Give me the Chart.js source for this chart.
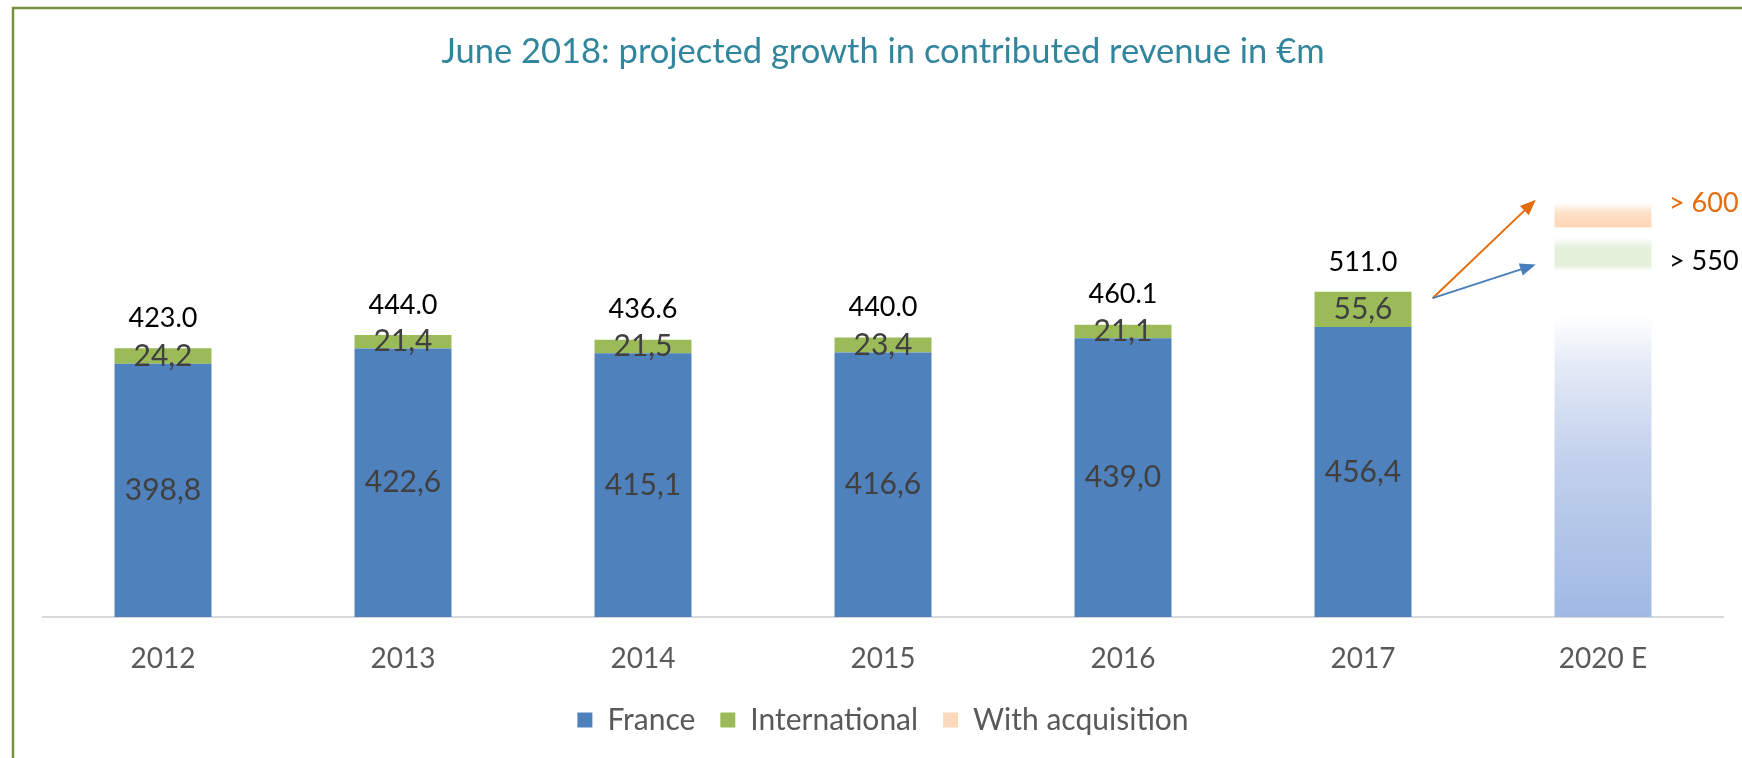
<!DOCTYPE html>
<html>
<head>
<meta charset="utf-8">
<script src="https://cdn.jsdelivr.net/npm/chart.js@4"></script>
<style>
  html, body { margin: 0; padding: 0; background: #ffffff; }
  #wrap { width: 1742px; height: 758px; position: relative; }
</style>
</head>
<body>
<div id="wrap"><canvas id="revChart"></canvas></div>
<script>
// Chart data
const years = ["2012", "2013", "2014", "2015", "2016", "2017", "2020 E"];
const france = [398.8, 422.6, 415.1, 416.6, 439.0, 456.4, 545];
const international = [24.2, 21.4, 21.5, 23.4, 21.1, 55.6, 53];
const acquisition = [null, null, null, null, null, null, 63];
const totals = [423.0, 444.0, 436.6, 440.0, 460.1, 511.0];
const targetLabels = ["> 600", "> 550"];
const targetValues = [652, 560];
const arrowTips = [657, 555];
const arrowStart = 502;

const LAST = years.length - 1;

// gradient helper for the projected bar
function barGradient(c, from, to, stops) {
    const chart = c.chart;
    const y = chart.scales.y;
    const g = chart.ctx.createLinearGradient(0, y.getPixelForValue(from), 0, y.getPixelForValue(to));
    stops.forEach(s => g.addColorStop(s[0], s[1]));
    return g;
}

const franceColor = (c) => {
    if (c.dataIndex !== LAST || !c.chart.chartArea) return "#4f81bd";
    return barGradient(c, 0, france[LAST], [
        [0, "#a0b9e4"], [0.45, "#c2d0ec"], [0.72, "#e3e9f6"], [0.87, "#ffffff"], [1, "#ffffff"]
    ]);
};
const intlColor = (c) => {
    if (c.dataIndex !== LAST || !c.chart.chartArea) return "#9bbb59";
    const lo = france[LAST];
    return barGradient(c, lo, lo + international[LAST], [
        [0, "#ffffff"], [0.15, "#e4f0da"], [0.65, "#e4f0da"], [1, "#ffffff"]
    ]);
};
const acqColor = (c) => {
    if (c.dataIndex !== LAST || !c.chart.chartArea) return "#fcd9bd";
    const lo = france[LAST] + international[LAST];
    return barGradient(c, lo, lo + acquisition[LAST], [
        [0, "#ffffff"], [0.24, "#ffffff"], [0.245, "#fdd6b6"], [0.6, "#fde0c8"], [0.86, "#ffffff"], [1, "#ffffff"]
    ]);
};

// labels, arrows, frame
const decorPlugin = {
    id: "decor",
    beforeDraw(chart) {
        const ctx = chart.ctx;
        ctx.save();
        ctx.strokeStyle = "#77933c";
        ctx.lineWidth = 2.5;
        ctx.beginPath();
        ctx.moveTo(13, 758);
        ctx.lineTo(13, 8);
        ctx.lineTo(1742, 8);
        ctx.stroke();
        ctx.restore();
    },
    afterDatasetsDraw(chart) {
        const ctx = chart.ctx;
        const x = chart.scales.x;
        const y = chart.scales.y;
        const frMeta = chart.getDatasetMeta(0);
        const inMeta = chart.getDatasetMeta(1);
        ctx.save();
        ctx.textAlign = "center";
        ctx.textBaseline = "middle";
        for (let i = 0; i < totals.length; i++) {
            const fr = frMeta.data[i];
            const it = inMeta.data[i];
            ctx.fillStyle = "#404040";
            ctx.font = "30px Lato";
            ctx.fillText(france[i].toFixed(1).replace(".", ","), fr.x, (fr.y + fr.base) / 2);
            ctx.fillText(international[i].toFixed(1).replace(".", ","), it.x, (it.y + it.base) / 2);
            ctx.fillStyle = "#000000";
            ctx.font = "27px Lato";
            ctx.fillText(totals[i].toFixed(1), it.x, it.y - 30);
        }

        // arrows from 2017 to the projection
        const step = x.getPixelForValue(1) - x.getPixelForValue(0);
        const x0 = x.getPixelForValue(LAST - 1) + step * 0.29;
        const y0 = y.getPixelForValue(arrowStart);
        const x1 = x.getPixelForValue(LAST) - step * 0.28;
        const arrowColors = ["#e46c0a", "#4a7ebb"];
        arrowTips.forEach((v, k) => {
            const y1 = y.getPixelForValue(v);
            const ang = Math.atan2(y1 - y0, x1 - x0);
            ctx.strokeStyle = arrowColors[k];
            ctx.fillStyle = arrowColors[k];
            ctx.lineWidth = 2;
            ctx.beginPath();
            ctx.moveTo(x0, y0);
            ctx.lineTo(x1 - Math.cos(ang) * 10, y1 - Math.sin(ang) * 10);
            ctx.stroke();
            ctx.beginPath();
            ctx.moveTo(x1, y1);
            ctx.lineTo(x1 - Math.cos(ang - 0.38) * 17, y1 - Math.sin(ang - 0.38) * 17);
            ctx.lineTo(x1 - Math.cos(ang + 0.38) * 17, y1 - Math.sin(ang + 0.38) * 17);
            ctx.closePath();
            ctx.fill();
        });

        // target texts next to the projected bar
        const tx = x.getPixelForValue(LAST) + step * 0.275;
        ctx.textAlign = "left";
        ctx.font = "27px Lato";
        const txtColors = ["#e46c0a", "#000000"];
        targetLabels.forEach((t, k) => {
            ctx.fillStyle = txtColors[k];
            ctx.fillText(t, tx, y.getPixelForValue(targetValues[k]));
        });
        ctx.restore();
    }
};

const ctx = document.getElementById("revChart").getContext("2d");
new Chart(ctx, {
    type: "bar",
    data: {
        labels: years,
        datasets: [
            { label: "France", data: france, backgroundColor: franceColor },
            { label: "International", data: international, backgroundColor: intlColor },
            { label: "With acquisition", data: acquisition, backgroundColor: acqColor },
        ],
    },
    options: {
        responsive: true,
        maintainAspectRatio: false,
        animation: false,
        datasets: {
            bar: { categoryPercentage: 1, barPercentage: 0.404, borderWidth: 0 },
        },
        layout: { padding: { left: 43, right: 19, top: 0, bottom: 13 } },
        scales: {
            x: {
                stacked: true,
                grid: { display: false },
                border: { display: true, color: "#d9d9d9", width: 2 },
                ticks: { color: "#595959", font: { family: "Lato", size: 28, lineHeight: 0.3 }, padding: 30 },
                afterFit(scale) { scale.height = 63; },
            },
            y: { stacked: true, display: false, min: 0, max: 700 },
        },
        plugins: {
            title: {
                display: true,
                text: "June 2018: projected growth in contributed revenue in €m",
                color: "#31859c",
                font: { family: "Lato", size: 34.5, weight: "normal" },
                padding: { top: 31, bottom: 100 },
            },
            legend: {
                position: "bottom",
                labels: {
                    color: "#595959",
                    font: { family: "Lato", size: 30 },
                    boxWidth: 15,
                    boxHeight: 15,
                    padding: 25,
                },
            },
            tooltip: { enabled: false },
        },
    },
    plugins: [decorPlugin],
});
</script>
</body>
</html>
